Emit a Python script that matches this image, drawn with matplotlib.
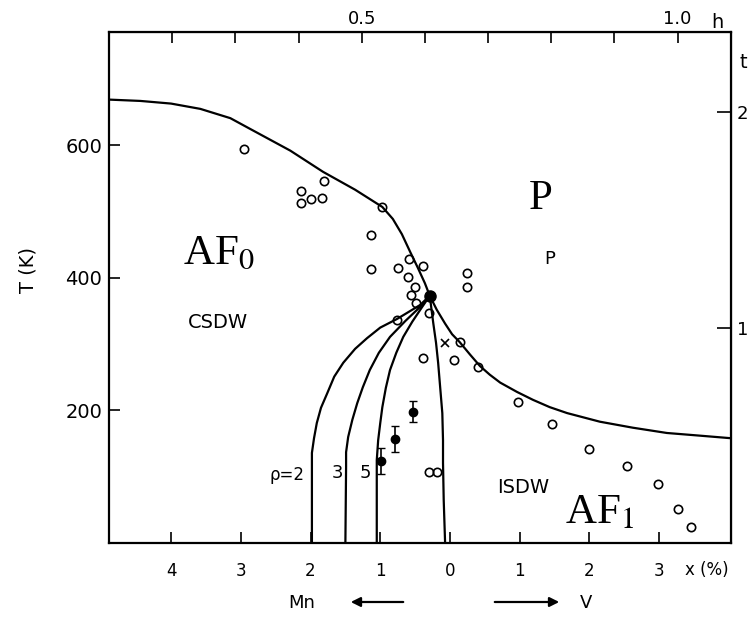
import matplotlib.pyplot as plt
import numpy as np

plt.rcParams['font.family'] = 'DejaVu Sans'
plt.rcParams['mathtext.fontset'] = 'stix'

# Neel line T_N(x); x < 0 is Mn content, x > 0 is V content (at.%)
neel_x = [-4.89, -4.44, -4.0, -3.58, -3.15, -2.87, -2.29, -1.82, -1.36, -0.97,
          -0.82, -0.69, -0.57, -0.46, -0.36, -0.29,
          -0.19, -0.07, 0.03, 0.14, 0.29, 0.43, 0.57, 0.72, 0.96, 1.19,
          1.43, 1.68, 2.15, 2.62, 3.11, 3.58, 4.04]
neel_T = [669, 667, 663, 655, 641, 625, 592, 560, 533, 507,
          489, 466, 439, 415, 392, 373,
          352, 331, 315, 303, 284, 267, 254, 242, 228, 216,
          205, 196, 183, 174, 166, 162, 158]

# AF0/AF1 boundaries for different rho
rho2_x = [-0.29, -0.43, -0.76, -1.00, -1.19, -1.36, -1.53, -1.66, -1.76, -1.85,
          -1.91, -1.95, -1.98, -1.98, -1.98]
rho2_T = [373, 359, 338, 325, 309, 293, 272, 251, 226, 204,
          181, 158, 136, 95, 0]
rho3_x = [-0.29, -0.43, -0.64, -0.86, -1.02, -1.15, -1.25, -1.33, -1.40, -1.46,
          -1.49, -1.49, -1.50]
rho3_T = [373, 356, 335, 311, 287, 261, 235, 211, 186, 160,
          137, 115, 0]
rho5_x = [-0.29, -0.40, -0.54, -0.67, -0.77, -0.86, -0.92, -0.97, -1.00, -1.03,
          -1.05, -1.05, -1.05]
rho5_T = [373, 356, 334, 311, 287, 261, 234, 205, 181, 155,
          125, 95, 0]
rhoinf_x = [-0.29, -0.24, -0.20, -0.17, -0.14, -0.11, -0.10, -0.10, -0.09, -0.07]
rhoinf_T = [373, 332, 302, 272, 234, 196, 155, 121, 65, 0]

# open circles: measured transition points
open_x = [-2.95, -1.81, -2.14, -2.14, -1.99, -1.83, -0.97, -1.13, -1.13, -0.75,
          -0.60, -0.59, -0.39, -0.50, -0.56, -0.49, -0.76, -0.30, -0.39, 0.06,
          0.14, 0.40, 0.97, 1.46, 1.99, 2.54, 2.98, 3.27, 3.45, -0.30,
          -0.19, 0.24, 0.24]
open_T = [595, 546, 531, 513, 519, 521, 507, 465, 414, 415,
          401, 429, 418, 386, 374, 362, 337, 347, 279, 276,
          303, 266, 213, 180, 142, 116, 89, 51, 24, 107,
          107, 408, 386]

# filled circles with error bars
fill_x = [-0.53, -0.79, -0.99]
fill_T = [198, 157, 124]
fill_err = [16, 20, 20]

# cross
cross_x = [-0.07]
cross_T = [302]

# triple point
triple_x = [-0.29]
triple_T = [373]

x_ticks = [-4, -3, -2, -1, 0, 1, 2, 3]
x_labels = ['4', '3', '2', '1', '0', '1', '2', '3']
T_ticks = [200, 400, 600]
h_ticks = [0.2, 0.3, 0.4, 0.5, 0.6, 0.7, 0.8, 0.9, 1.0]
h_labels = ['', '', '', '0.5', '', '', '', '', '1.0']
t_ticks = [1, 2]

fig = plt.figure(figsize=(7.54, 6.17), dpi=100)
ax = fig.add_axes([109 / 754, 74 / 617, 622 / 754, 511 / 617])

lw = 1.6
ax.plot(neel_x, neel_T, color='k', lw=lw)
for xs, ts in [(rho2_x, rho2_T), (rho3_x, rho3_T), (rho5_x, rho5_T), (rhoinf_x, rhoinf_T)]:
    ax.plot(xs, ts, color='k', lw=lw)

ax.plot(open_x, open_T, 'o', mfc='none', mec='k', ms=6, mew=1.2)
ax.errorbar(fill_x, fill_T, yerr=fill_err, fmt='o', color='k', ms=6, capsize=3, elinewidth=1.2)
ax.plot(cross_x, cross_T, 'x', color='k', ms=6, mew=1.2)
ax.plot(triple_x, triple_T, 'o', color='k', ms=8)

ax.set_xlim(-4.89, 4.03)
ax.set_ylim(0, 771)
ax.set_xticks(x_ticks, x_labels)
ax.set_yticks(T_ticks)
ax.tick_params(axis='x', direction='in', length=8, width=1.2, pad=14, labelsize=12)
ax.tick_params(axis='y', direction='in', length=8, width=1.2, pad=5, labelsize=14)
for s in ax.spines.values():
    s.set_linewidth(1.6)

# top axis h, right axis t
def x_to_h(x):
    return (np.asarray(x) + 5.795) / 9.058

def h_to_x(h):
    return np.asarray(h) * 9.058 - 5.795

top = ax.secondary_xaxis('top', functions=(x_to_h, h_to_x))
top.set_xticks(h_ticks, h_labels)
top.tick_params(direction='in', length=8, width=1.2, pad=3, labelsize=13)

right = ax.secondary_yaxis('right', functions=(lambda T: np.asarray(T) / 325, lambda t: np.asarray(t) * 325))
right.set_yticks(t_ticks)
right.tick_params(direction='in', length=10, width=1.2, pad=4, labelsize=13)

# labels inside the plot
ax.text(-3.83, 420, r'AF$_0$', fontsize=31, family='Liberation Serif', ha='left', va='baseline')
ax.text(1.65, 30, r'AF$_1$', fontsize=31, family='Liberation Serif', ha='left', va='baseline')
ax.text(1.3, 504, 'P', fontsize=31, family='Liberation Serif', ha='center', va='baseline')
ax.text(1.43, 429, 'P', fontsize=13, ha='center', va='center')
ax.text(-3.33, 332, 'CSDW', fontsize=14, ha='center', va='center')
ax.text(1.05, 83, 'ISDW', fontsize=14, ha='center', va='center')
ax.text(-2.34, 103, 'ρ=2', fontsize=12, ha='center', va='center')
ax.text(-1.61, 106, '3', fontsize=13, ha='center', va='center')
ax.text(-1.22, 106, '5', fontsize=13, ha='center', va='center')

# axis labels
fig.text(28 / 754, 1 - 270 / 617, 'T (K)', rotation=90, fontsize=14, ha='center', va='center')
fig.text(707 / 754, 1 - 570 / 617, 'x (%)', fontsize=12, ha='center', va='center')
fig.text(717 / 754, 1 - 22 / 617, 'h', fontsize=14, ha='center', va='center')
fig.text(743 / 754, 1 - 63 / 617, 't', fontsize=14, ha='center', va='center')
fig.text(302 / 754, 1 - 603 / 617, 'Mn', fontsize=13, ha='center', va='center')
fig.text(586 / 754, 1 - 603 / 617, 'V', fontsize=13, ha='center', va='center')
ax.annotate('', xy=(348, 15), xytext=(406, 15), xycoords='figure pixels',
            arrowprops=dict(arrowstyle='-|>', lw=1.6, color='k', mutation_scale=14))
ax.annotate('', xy=(562, 15), xytext=(492, 15), xycoords='figure pixels',
            arrowprops=dict(arrowstyle='-|>', lw=1.6, color='k', mutation_scale=14))

fig.savefig('out.png', dpi=100)
